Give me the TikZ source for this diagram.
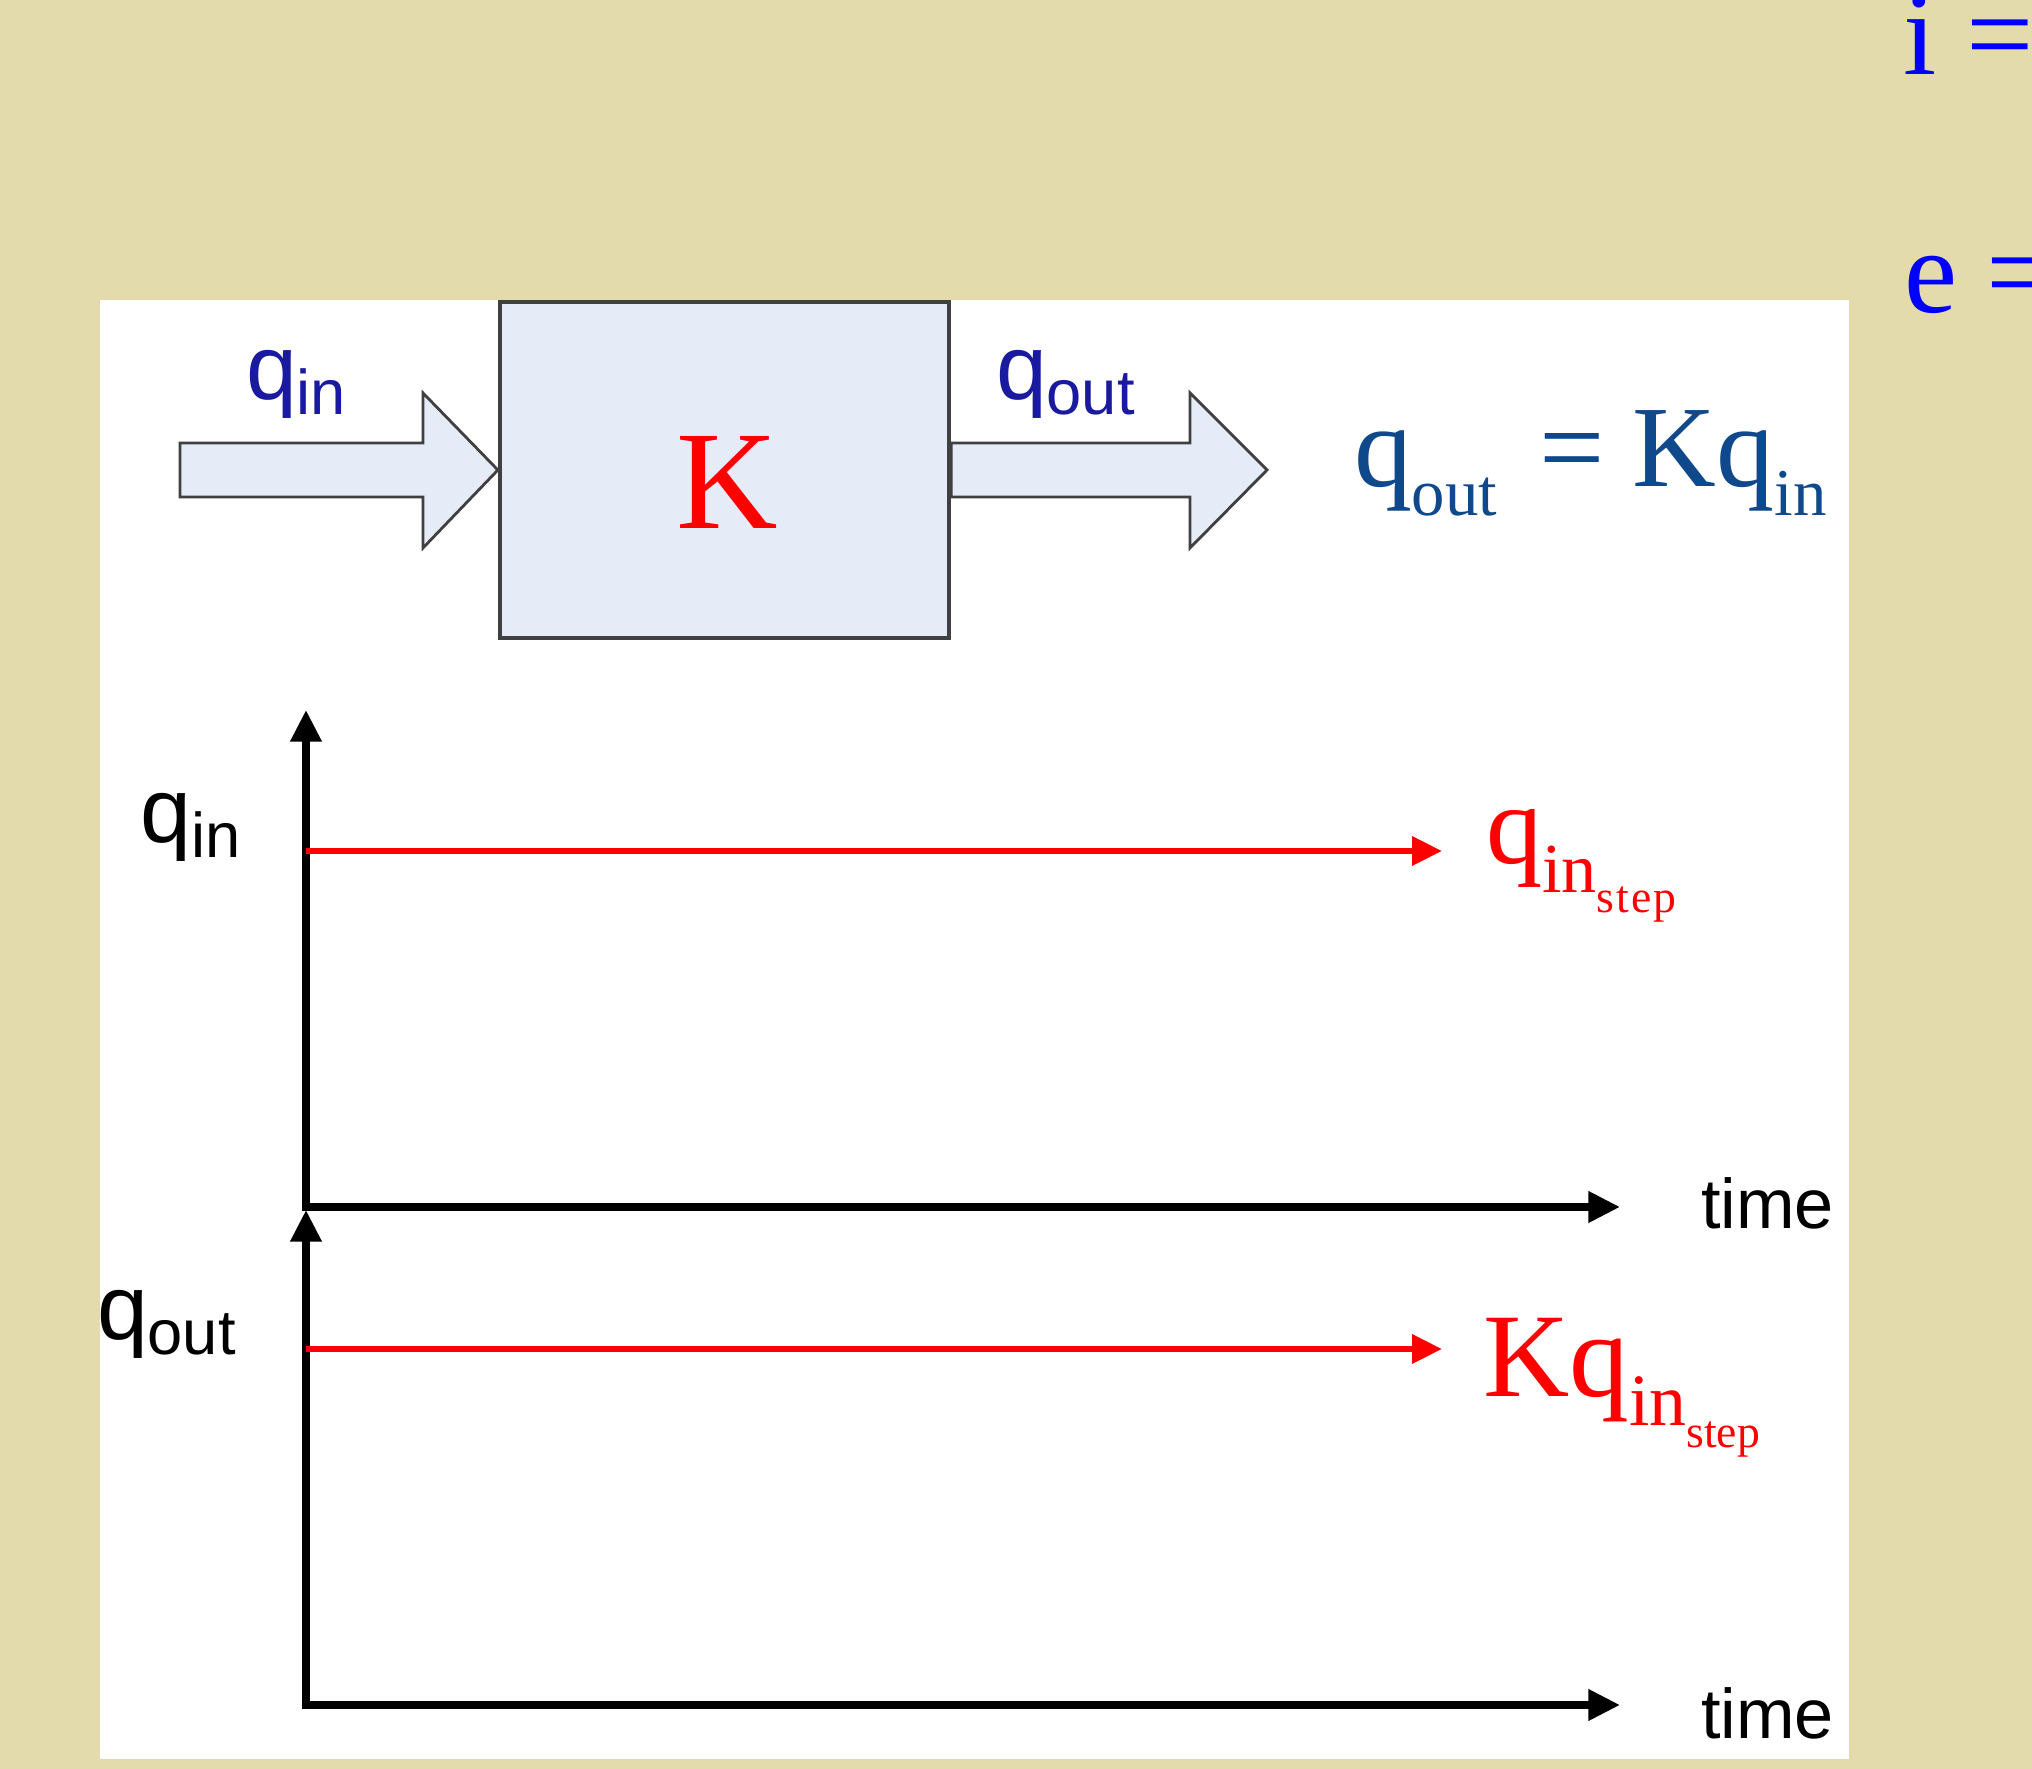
\documentclass[tikz,border=0pt]{standalone}
\usepackage{fontspec}
\setmainfont{Liberation Serif}
\setsansfont{Liberation Sans}
\usetikzlibrary{arrows.meta}
\definecolor{bgbeige}{RGB}{227,219,171}
\definecolor{boxfill}{RGB}{230,236,247}
\definecolor{edgegray}{RGB}{64,64,64}
\definecolor{lblblue}{RGB}{26,26,160}
\definecolor{eqblue}{RGB}{16,72,140}
\definecolor{pureblue}{RGB}{0,0,255}
\definecolor{purered}{RGB}{255,0,0}
\newcommand\fsz[1]{\fontsize{#1}{#1}\selectfont}
\newcommand\lowsub[3]{\raisebox{-#1}{\fsz{#2}#3}}
\begin{document}
\begin{tikzpicture}[x=0.1mm,y=-0.1mm,
  txt/.style={inner sep=0pt, outer sep=0pt, anchor=base west},
  axispath/.style={line width=2.1pt, black, line join=miter,
     {Triangle[length=9pt,width=8.5pt]}-{Triangle[length=9pt,width=8.5pt]}},
  redline/.style={line width=1.7pt, purered, -{Triangle[length=8.5pt,width=8pt]}},
  blockarrow/.style={draw=edgegray, line width=0.8pt, fill=boxfill, line join=miter},
  blockbox/.style={draw=edgegray, line width=1.2pt, fill=boxfill,
     minimum width=44.9mm, minimum height=33.6mm, inner sep=0pt}]
\useasboundingbox (0,0) rectangle (2032,1769);
\clip (0,0) rectangle (2032,1769);
\fill[bgbeige] (0,0) rectangle (2032,1769);
\fill[white] (100,300) rectangle (1849,1759);

% block diagram
\node[blockbox] (box) at (724.5,470) {};
\draw[blockarrow] (180,443) -- (423,443) -- (423,393) -- (box.west)
   -- (423,548) -- (423,497) -- (180,497) -- cycle;
\draw[blockarrow] (box.east |- 0,443) -- (1190,443) -- (1190,393) -- (1267,470)
   -- (1190,548) -- (1190,497) -- (box.east |- 0,497) -- cycle;
\node[inner sep=0pt, anchor=base, text=purered] (kay) at (727,529) {\fsz{40pt}K};
\node[txt, text=lblblue] (qinlbl) at (246,400) {\sffamily\fsz{26pt}q\lowsub{4pt}{18pt}{in}};
\node[txt, text=lblblue] (qoutlbl) at (996,400) {\sffamily\fsz{26pt}q\lowsub{4pt}{18pt}{out}};
\node[txt, text=eqblue] (eqn) at (1354,487)
  {\fsz{33pt}q\lowsub{8pt}{19pt}{out}\kern 12pt=\kern 8pt Kq\lowsub{8pt}{19pt}{in}};

% cut-off equations top right
\node[txt, text=pureblue] (ieq) at (1903,75) {\fsz{34pt}i =};
\node[txt, text=pureblue] (eeq) at (1904,313) {\fsz{34pt}e =};

% axes
\coordinate (o1) at (306,1207); \coordinate (y1) at (306,710); \coordinate (x1) at (1620,1207);
\coordinate (o2) at (306,1705); \coordinate (y2) at (306,1210); \coordinate (x2) at (1620,1705);
\draw[axispath] (y1) -- (o1) -- (x1);
\draw[axispath] (y2) -- (o2) -- (x2);

\coordinate (r1a) at (306,851); \coordinate (r1b) at (1442,851);
\coordinate (r2a) at (306,1349); \coordinate (r2b) at (1442,1349);
\draw[redline] (r1a) -- (r1b);
\draw[redline] (r2a) -- (r2b);

\node[txt] (qinax) at (141,843) {\sffamily\fsz{26pt}q\lowsub{4pt}{18pt}{in}};
\node[txt] (qoutax) at (97,1340) {\sffamily\fsz{26pt}q\lowsub{4pt}{18pt}{out}};
\node[txt] (time1) at (1701,1229) {\sffamily\fsz{20pt}time};
\node[txt] (time2) at (1701,1739) {\sffamily\fsz{20pt}time};

\node[txt, text=purered] (qstep) at (1486,864)
  {\fsz{32pt}q\lowsub{8.2pt}{20pt}{in\lowsub{5.7pt}{13pt}{s\kern0.6pt t\kern0.6pt e\kern0.6pt p}}};
\node[txt, text=purered] (kqstep) at (1483,1397)
  {\fsz{34pt}Kq\lowsub{8pt}{21pt}{in\lowsub{6.3pt}{13pt}{step}}};
\end{tikzpicture}
\end{document}
